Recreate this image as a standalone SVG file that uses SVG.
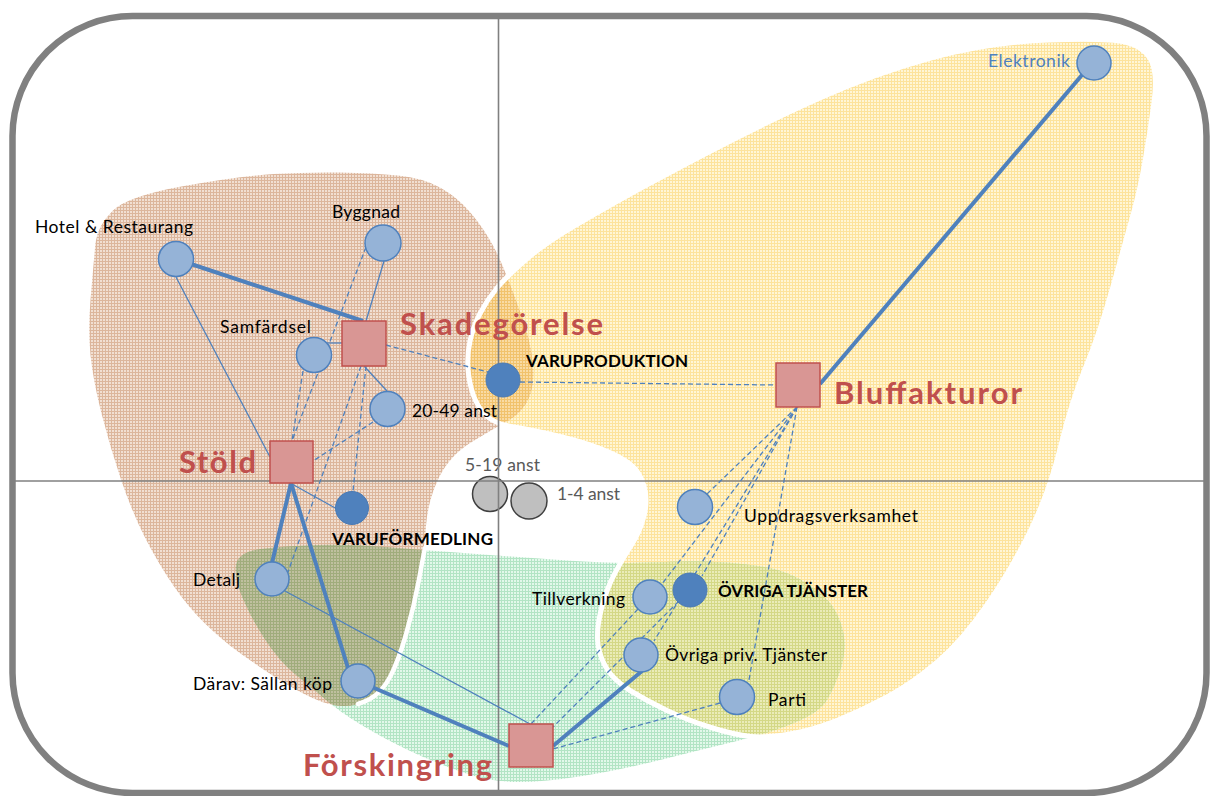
<svg xmlns="http://www.w3.org/2000/svg" xmlns:xlink="http://www.w3.org/1999/xlink" width="1210" height="796" viewBox="0 0 1210 796">
<style>
.lbl{font-family:Lato,"Liberation Sans",sans-serif;font-size:17.5px;fill:#000}
.cap{font-family:Lato,"Liberation Sans",sans-serif;font-size:17px;font-weight:700;fill:#000}
.red{font-family:Lato,"Liberation Sans",sans-serif;font-size:31px;font-weight:700;fill:#c0504d}
.gry{font-family:Lato,"Liberation Sans",sans-serif;font-size:17.5px;fill:#595959}
.blu{font-family:Lato,"Liberation Sans",sans-serif;font-size:17.5px;fill:#4f81bd}
.c{fill:#95b3d7;stroke:#4f81bd;stroke-width:1.5}
.cd{fill:#4f81bd;stroke:#4a7ab4;stroke-width:1}
.cg{fill:#bfbfbf;stroke:#404040;stroke-width:1.5}
.sq{fill:#d99694;stroke:#c0504d;stroke-width:1.5}
.thick{stroke:#4f81bd;stroke-width:4;fill:none}
.thin{stroke:#4f81bd;stroke-width:1.3;fill:none}
.dash{stroke:#4f81bd;stroke-width:1.3;fill:none;stroke-dasharray:5 3}
.axis{stroke:#808080;stroke-width:1.6}
</style>
<defs>
<pattern id="pY" width="3" height="3" patternUnits="userSpaceOnUse"><rect width="3" height="3" fill="#fff6d6"/><path d="M0 0.5H3M0.5 0V3" stroke="#fde39c"/></pattern>
<pattern id="pB" width="3" height="3" patternUnits="userSpaceOnUse"><rect width="3" height="3" fill="#f1dfd2"/><path d="M0 0.5H3M0.5 0V3" stroke="#dcb69c"/></pattern>
<pattern id="pG" width="3" height="3" patternUnits="userSpaceOnUse"><rect width="3" height="3" fill="#e2f8ea"/><path d="M0 0.5H3M0.5 0V3" stroke="#b2e4c4"/></pattern>
<pattern id="pYG" width="3" height="3" patternUnits="userSpaceOnUse"><rect width="3" height="3" fill="#eaecb8"/><path d="M0 0.5H3M0.5 0V3" stroke="#d4d886"/></pattern>
<pattern id="pO" width="3" height="3" patternUnits="userSpaceOnUse"><rect width="3" height="3" fill="#bfc09f"/><path d="M0 0.5H3M0.5 0V3" stroke="#a0ac7c"/></pattern>
<pattern id="pDO" width="3" height="3" patternUnits="userSpaceOnUse"><rect width="3" height="3" fill="#f9dba4"/><path d="M0 0.5H3M0.5 0V3" stroke="#f1c26c"/></pattern>
<path id="rY" d="M1048.5,40 Q1107,38 1125,42 Q1143,46 1150.5,59 Q1158,72 1154,102.5 Q1150,133 1145,161.5 Q1140,190 1133,215 Q1126,240 1113,286.5 Q1100,333 1086,366.5 Q1072,400 1061,445 Q1050,490 1031.5,528.5 Q1013,567 988,603.5 Q963,640 938,661.5 Q913,683 888,696.5 Q863,710 838,720 Q813,730 790,734 Q767,738 751,736.5 Q735,735 711,727.5 Q687,720 667,710.5 Q647,701 630,690.5 Q613,680 605.5,666.5 Q598,653 597.5,639 Q597,625 602,606.5 Q607,588 615,573 Q623,558 631.5,545 Q640,532 644,516 Q648,500 644,486 Q640,472 630,464 Q620,456 601.5,449 Q583,442 558,436 Q533,430 514,427 Q495,424 486.5,416 Q478,408 473.5,395.5 Q469,383 468,369 Q467,355 470,341 Q473,327 480,313.5 Q487,300 496.5,288.5 Q506,277 525.5,260 Q545,243 575,225.5 Q605,208 627.5,195.5 Q650,183 705,154 Q760,125 817.5,99 Q875,73 932.5,57.5 Q990,42 1048.5,40 Z"/>
<path id="rG" d="M236,565 Q238,552 260.5,549 Q283,546 316.5,545 Q350,544 386.5,547 Q423,550 470,553.5 Q517,557 567,560.5 Q617,564 648.5,562.5 Q680,561 705,561.5 Q730,562 755,565.5 Q780,569 796.5,577.5 Q813,586 824,596.5 Q835,607 840,621 Q845,635 844.5,647.5 Q844,660 839,674 Q834,688 827,700 Q820,712 795,722.5 Q770,733 735,741.5 Q700,750 660,760 Q620,770 582.5,776 Q545,782 517.5,782 Q490,782 461.5,772 Q433,762 408,750 Q383,738 361.5,725 Q340,712 326,700 Q312,688 296,675 Q280,662 266,641 Q252,620 243,599 Q234,578 236,565 Z"/>
<path id="rB" d="M113,210.5 Q128,196 184,186 Q240,176 273.5,174 Q307,172 340,172.5 Q373,173 398,175.5 Q423,178 440,187.5 Q457,197 469.5,211.5 Q482,226 491,242 Q500,258 507.5,278 Q515,298 522.5,319 Q530,340 532.5,361.5 Q535,383 529,397.5 Q523,412 509,420 Q495,428 472.5,441.5 Q450,455 439,477.5 Q428,500 426,526 Q424,552 419,579.5 Q414,607 406,634.5 Q398,662 390,677 Q382,692 370,699 Q358,706 344,706 Q330,706 312.5,698 Q295,690 275,677 Q255,664 238.5,652 Q222,640 205,623.5 Q188,607 173,585 Q158,563 145,537.5 Q132,512 121,479.5 Q110,447 101.5,413.5 Q93,380 90.5,355 Q88,330 90.5,300 Q93,270 95.5,242.5 Q98,225 113,210.5 Z"/>
<clipPath id="cY"><use xlink:href="#rY"/></clipPath>
<clipPath id="cG"><use xlink:href="#rG"/></clipPath>
</defs>

<g id="regions">
<use xlink:href="#rY" fill="url(#pY)"/>
<use xlink:href="#rG" fill="url(#pG)"/>
<use xlink:href="#rG" fill="url(#pYG)" clip-path="url(#cY)"/>
<use xlink:href="#rB" fill="url(#pB)"/>
<use xlink:href="#rB" fill="url(#pDO)" clip-path="url(#cY)"/>
<use xlink:href="#rB" fill="url(#pO)" clip-path="url(#cG)"/>
<use xlink:href="#rY" fill="none" stroke="#ffffff" stroke-width="5"/>
<path d="M425,548 Q424,552 419,579.5 Q414,607 406,634.5 Q398,662 390,677 Q382,692 370,699 Q364,702 358,704" fill="none" stroke="#ffffff" stroke-width="4.5" stroke-linecap="round"/>
</g>

<g id="node-5-19">
<circle class="cg" cx="490" cy="494" r="17.5"/>
<text class="gry" x="465" y="471" textLength="75" lengthAdjust="spacing">5-19 anst</text>
</g>
<g id="node-1-4">
<circle class="cg" cx="529" cy="501" r="18"/>
<text class="gry" x="557" y="500" textLength="63" lengthAdjust="spacing">1-4 anst</text>
</g>

<g id="axes">
<line class="axis" x1="498.5" y1="19" x2="498.5" y2="793"/>
<line class="axis" x1="15" y1="481" x2="1204" y2="481"/>
</g>

<g id="connectors">
<line class="thick" x1="176" y1="259" x2="363" y2="321"/>
<line class="thick" x1="1093" y1="62" x2="820" y2="384"/>
<line class="thick" x1="291" y1="483" x2="272" y2="563"/>
<line class="thick" x1="291" y1="483" x2="348" y2="668"/>
<line class="thick" x1="358" y1="681" x2="509" y2="746"/>
<line class="thick" x1="553" y1="746" x2="642" y2="671"/>
<line class="thin" x1="176" y1="277" x2="270" y2="457"/>
<line class="thin" x1="384" y1="261" x2="366" y2="321"/>
<line class="thin" x1="327" y1="343" x2="342" y2="343"/>
<line class="thin" x1="364" y1="366" x2="387" y2="391"/>
<line class="thin" x1="292" y1="484" x2="337" y2="509"/>
<line class="thin" x1="285" y1="591" x2="530" y2="724"/>
<line class="dash" x1="386" y1="345" x2="488" y2="372"/>
<line class="dash" x1="520" y1="382" x2="776" y2="385"/>
<line class="dash" x1="366" y1="247" x2="292" y2="441"/>
<line class="dash" x1="303" y1="371" x2="292" y2="441"/>
<line class="dash" x1="366" y1="366" x2="353" y2="491"/>
<line class="dash" x1="361" y1="366" x2="288" y2="572"/>
<line class="dash" x1="373" y1="422" x2="313" y2="461"/>
<line class="dash" x1="797" y1="407" x2="707" y2="494"/>
<line class="dash" x1="797" y1="407" x2="662" y2="584"/>
<line class="dash" x1="638" y1="609" x2="531" y2="724"/>
<line class="dash" x1="797" y1="407" x2="702" y2="576"/>
<line class="dash" x1="797" y1="407" x2="654" y2="641"/>
<line class="dash" x1="690" y1="590" x2="553" y2="727"/>
<line class="dash" x1="797" y1="407" x2="749" y2="680"/>
<line class="dash" x1="720" y1="703" x2="553" y2="749"/>
</g>

<g id="node-hotel">
<circle class="c" cx="176" cy="259" r="17.5"/>
<text class="lbl" x="35" y="233" textLength="158" lengthAdjust="spacing">Hotel &amp; Restaurang</text>
</g>
<g id="node-byggnad">
<circle class="c" cx="383" cy="243" r="18"/>
<text class="lbl" x="332" y="218" textLength="68" lengthAdjust="spacing">Byggnad</text>
</g>
<g id="node-samfardsel">
<circle class="c" cx="314" cy="355" r="17.5"/>
<text class="lbl" x="220" y="333" textLength="91" lengthAdjust="spacing">Samfärdsel</text>
</g>
<g id="node-20-49">
<circle class="c" cx="387.5" cy="409" r="17.5"/>
<text class="lbl" x="412" y="417" textLength="85" lengthAdjust="spacing">20-49 anst</text>
</g>
<g id="node-varuproduktion">
<circle class="cd" cx="503" cy="380" r="17"/>
<text class="cap" x="526" y="367" textLength="162" lengthAdjust="spacing">VARUPRODUKTION</text>
</g>
<g id="node-varuformedling">
<circle class="cd" cx="352" cy="508" r="16.5"/>
<text class="cap" x="332" y="545" textLength="161" lengthAdjust="spacing">VARUFÖRMEDLING</text>
</g>
<g id="node-detalj">
<circle class="c" cx="272" cy="579" r="17"/>
<text class="lbl" x="193" y="586" textLength="47" lengthAdjust="spacing">Detalj</text>
</g>
<g id="node-darav">
<circle class="c" cx="358" cy="681" r="17"/>
<text class="lbl" x="193" y="690" textLength="139" lengthAdjust="spacing">Därav: Sällan köp</text>
</g>
<g id="node-elektronik">
<circle class="c" cx="1094" cy="63" r="17"/>
<text class="blu" x="988" y="67" textLength="82" lengthAdjust="spacing">Elektronik</text>
</g>
<g id="node-uppdrag">
<circle class="c" cx="695" cy="507" r="17.5"/>
<text class="lbl" x="744" y="522" textLength="174" lengthAdjust="spacing">Uppdragsverksamhet</text>
</g>
<g id="node-tillverkning">
<circle class="c" cx="650" cy="597" r="17"/>
<text class="lbl" x="532" y="605" textLength="93" lengthAdjust="spacing">Tillverkning</text>
</g>
<g id="node-ovriga-tjanster">
<circle class="cd" cx="690" cy="590" r="17"/>
<text class="cap" x="718" y="597" textLength="150" lengthAdjust="spacing">ÖVRIGA TJÄNSTER</text>
</g>
<g id="node-ovriga-priv">
<circle class="c" cx="641" cy="655" r="17"/>
<text class="lbl" x="665" y="661" textLength="162" lengthAdjust="spacing">Övriga priv. Tjänster</text>
</g>
<g id="node-parti">
<circle class="c" cx="737" cy="697" r="17.5"/>
<text class="lbl" x="768" y="706" textLength="38" lengthAdjust="spacing">Parti</text>
</g>

<g id="node-skadegorelse">
<rect class="sq" x="342" y="321" width="44" height="45"/>
<text class="red" x="400" y="335" textLength="203" lengthAdjust="spacing">Skadegörelse</text>
</g>
<g id="node-stold">
<rect class="sq" x="270" y="441" width="43" height="42"/>
<text class="red" x="179" y="473" textLength="77" lengthAdjust="spacing">Stöld</text>
</g>
<g id="node-bluffakturor">
<rect class="sq" x="776" y="363" width="44" height="44"/>
<text class="red" x="834" y="404" textLength="188" lengthAdjust="spacing">Bluffakturor</text>
</g>
<g id="node-forskingring">
<rect class="sq" x="509" y="724" width="44" height="43"/>
<text class="red" x="303" y="776" textLength="189" lengthAdjust="spacing">Förskingring</text>
</g>

<rect id="frame" x="12.5" y="16" width="1194" height="777" rx="120" ry="120" fill="none" stroke="#808080" stroke-width="6.5"/>
</svg>
